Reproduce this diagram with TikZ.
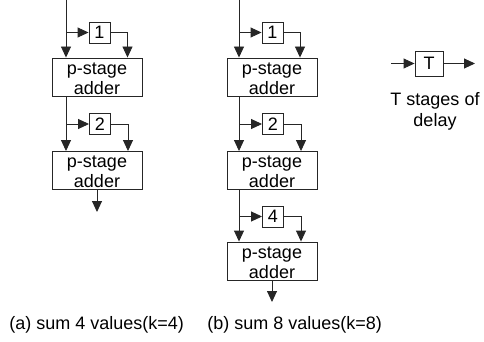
\documentclass[tikz,border=0pt]{standalone}
\usepackage{fontspec}
\setmainfont{Liberation Sans}
\usetikzlibrary{arrows.meta}
\newcommand\addertop{\rule{0pt}{15pt}}
\begin{document}
\begin{tikzpicture}[x=1pt,y=-1pt,
  line width=0.9pt, draw=black!85,
  arr/.style={-{Triangle[length=11pt,width=10pt]}},
  adder/.style={draw, minimum width=90pt, minimum height=38pt, inner sep=0pt, align=center, font=\fontsize{18}{20}\selectfont},
  delaybox/.style={draw, minimum width=21pt, minimum height=21pt, inner sep=0pt, font=\fontsize{18}{20}\selectfont},
  lbl/.style={font=\fontsize{18}{21}\selectfont, inner sep=0pt}]
\useasboundingbox (0,0) rectangle (484,342);
% ---- (a) left column
\node[adder] (a1) at (97,77) {\addertop p-stage\\adder};
\node[adder] (a2) at (97,170.5) {\addertop p-stage\\adder};
\node[delaybox] (d1) at (99.5,32.5) {1};
\node[delaybox] (d2) at (100,124) {2};
\coordinate (ain) at (66,0);
\coordinate (ab1) at (66,32.5);
\coordinate (ab2) at (66,124);
\coordinate (ar1) at (127.5,32.5);
\coordinate (ar2) at (128,124);
\coordinate (aout) at (97,212);
\draw[arr] (ain) -- (ain |- a1.north);
\draw[arr] (ab1) -- (d1.west);
\draw[arr] (d1.east) -| (ar1 |- a1.north);
\draw[arr] (ab2 |- a1.south) -- (ab2 |- a2.north);
\draw[arr] (ab2) -- (d2.west);
\draw[arr] (d2.east) -| (ar2 |- a2.north);
\draw[arr] (a2.south) -- (aout);
% ---- (b) right column
\node[adder] (b1) at (272,77) {\addertop p-stage\\adder};
\node[adder] (b2) at (272,170.5) {\addertop p-stage\\adder};
\node[adder] (b3) at (272,261) {\addertop p-stage\\adder};
\node[delaybox] (e1) at (272.5,32.5) {1};
\node[delaybox] (e2) at (273,124) {2};
\node[delaybox] (e3) at (273,216.5) {4};
\coordinate (bin) at (239,0);
\coordinate (bb1) at (239,32.5);
\coordinate (bb2) at (239,124);
\coordinate (bb3) at (239,216.5);
\coordinate (br1) at (300,32.5);
\coordinate (br2) at (301,124);
\coordinate (br3) at (301,216.5);
\coordinate (bout) at (272,302);
\draw[arr] (bin) -- (bin |- b1.north);
\draw[arr] (bb1) -- (e1.west);
\draw[arr] (e1.east) -| (br1 |- b1.north);
\draw[arr] (bb2 |- b1.south) -- (bb2 |- b2.north);
\draw[arr] (bb2) -- (e2.west);
\draw[arr] (e2.east) -| (br2 |- b2.north);
\draw[arr] (bb3 |- b2.south) -- (bb3 |- b3.north);
\draw[arr] (bb3) -- (e3.west);
\draw[arr] (e3.east) -| (br3 |- b3.north);
\draw[arr] (b3.south) -- (bout);
% ---- legend
\node[delaybox, minimum width=28pt, minimum height=25pt] (t) at (429,63.5) {T};
\coordinate (tin) at (391,63.5);
\coordinate (tout) at (475,63.5);
\draw[arr] (tin) -- (t.west);
\draw[arr] (t.east) -- (tout);
\node[lbl, align=center] (tl) at (435,111) {T stages of\\delay};
% ---- captions
\node[lbl, anchor=base west] (la) at (9,329) {(a) sum 4 values(k=4)};
\node[lbl, anchor=base west] (lb) at (207,329) {(b) sum 8 values(k=8)};
\end{tikzpicture}
\end{document}
